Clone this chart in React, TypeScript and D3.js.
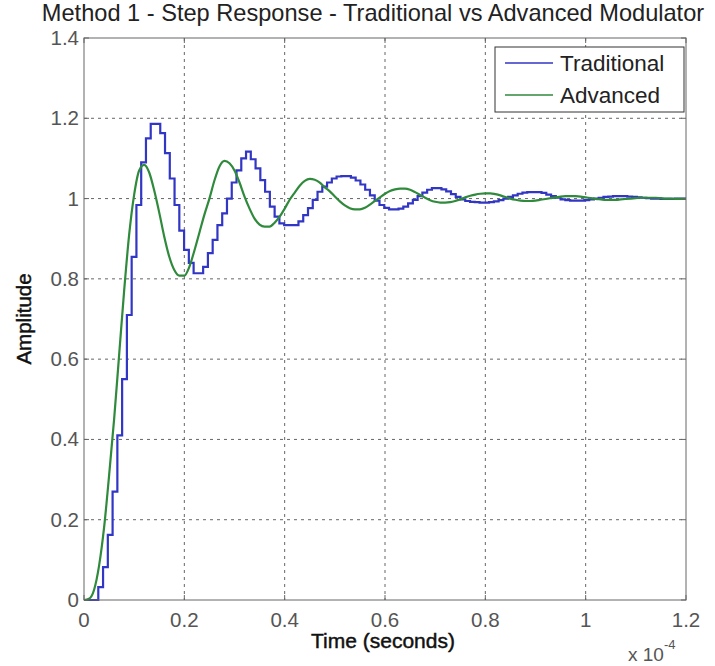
import React from "react";
import * as d3 from "d3";

// ---- data (time in units of 1e-4 s) ----
const xTicks = [0, 0.2, 0.4, 0.6, 0.8, 1, 1.2];
const yTicks = [0, 0.2, 0.4, 0.6, 0.8, 1, 1.2, 1.4];
const seriesNames = ["Traditional", "Advanced"];

// Traditional: discrete-time (zero-order hold) step response, sample period 0.95 us
const tradSampleTime = 0.0095;
const tradValues = [
  0, 0, 0, 0.032, 0.082, 0.162, 0.27, 0.41, 0.55, 0.71,
  0.855, 0.984, 1.09, 1.15, 1.186, 1.186, 1.163, 1.113, 1.05, 0.984,
  0.92, 0.872, 0.84, 0.814, 0.814, 0.83, 0.864, 0.897, 0.934, 0.963,
  1.0, 1.04, 1.07, 1.1, 1.117, 1.098, 1.075, 1.046, 1.017, 0.98,
  0.955, 0.938, 0.934, 0.934, 0.934, 0.943, 0.959, 0.976, 0.997, 1.017,
  1.03, 1.04, 1.05, 1.055, 1.056, 1.056, 1.052, 1.045, 1.035, 1.022,
  1.008, 0.995, 0.984, 0.977, 0.973, 0.973, 0.975, 0.98, 0.988, 0.997,
  1.006, 1.015, 1.022, 1.026, 1.026, 1.023, 1.018, 1.011, 1.004, 0.998,
  0.994, 0.992, 0.991, 0.99, 0.99, 0.991, 0.993, 0.996, 1.0, 1.004,
  1.008, 1.012, 1.015, 1.016, 1.016, 1.016, 1.014, 1.01, 1.006, 1.002,
  0.998, 0.996, 0.995, 0.995, 0.995, 0.996, 0.998, 1.0, 1.002, 1.004,
  1.005, 1.006, 1.006, 1.006, 1.005, 1.004, 1.003, 1.002, 1.001, 1.0,
  1.0, 0.999, 0.999, 0.999, 1.0, 1.0, 1.0,
];

// Advanced: continuous response read every 1 us
const advSampleTime = 0.01;
const advValues = [
  0, 0.003, 0.025, 0.085, 0.18, 0.31, 0.45, 0.61, 0.77, 0.91,
  1.01, 1.07, 1.084, 1.065, 1.02, 0.965, 0.905, 0.855, 0.822, 0.808,
  0.808, 0.83, 0.87, 0.915, 0.96, 1.0, 1.045, 1.08, 1.094, 1.088,
  1.07, 1.04, 1.005, 0.975, 0.95, 0.935, 0.93, 0.93, 0.94, 0.955,
  0.975, 0.997, 1.015, 1.032, 1.044, 1.049, 1.047, 1.04, 1.028, 1.018,
  1.005, 0.993, 0.983, 0.976, 0.973, 0.973, 0.977, 0.985, 0.994, 1.003,
  1.012, 1.019, 1.023, 1.025, 1.025, 1.022, 1.016, 1.009, 1.002, 0.996,
  0.992, 0.99, 0.99, 0.991, 0.994, 0.998, 1.003, 1.007, 1.01, 1.012,
  1.013, 1.013, 1.011, 1.008, 1.004, 1.0, 0.997, 0.995, 0.994, 0.994,
  0.995, 0.997, 0.999, 1.001, 1.003, 1.005, 1.006, 1.006, 1.006, 1.005,
  1.003, 1.001, 0.999, 0.998, 0.997, 0.997, 0.997, 0.998, 0.999, 1.0,
  1.001, 1.002, 1.002, 1.002, 1.002, 1.001, 1.0, 1.0, 0.999, 0.999, 0.999,
];

const W = 715;
const H = 666;
const M = { left: 84, right: 686, top: 38, bottom: 600 };
const FONT = "'Liberation Sans', Arial, sans-serif";
const BLUE = "#3236c4";
const GREEN = "#2f8a3c";

export default function App() {
  const x = d3.scaleLinear().domain([0, 1.2]).range([M.left, M.right]);
  const y = d3.scaleLinear().domain([0, 1.4]).range([M.bottom, M.top]);

  const tradPts: [number, number][] = tradValues.map((v, i) => [i * tradSampleTime, v]);
  tradPts.push([1.2, tradValues[tradValues.length - 1]]);
  const advPts: [number, number][] = advValues.map((v, i) => [i * advSampleTime, v]);

  const stepLine = d3
    .line<[number, number]>()
    .x((d) => x(Math.min(d[0], 1.2)))
    .y((d) => y(d[1]))
    .curve(d3.curveStepAfter);
  const smoothLine = d3
    .line<[number, number]>()
    .x((d) => x(d[0]))
    .y((d) => y(d[1]))
    .curve(d3.curveMonotoneX);

  const colors = [BLUE, GREEN];

  return (
    <svg
      width={W}
      height={H}
      style={{ position: "absolute", left: 0, top: 0, background: "#fff" }}
      fontFamily={FONT}
    >
      <rect x={0} y={0} width={W} height={H} fill="#fff" />
      {/* title */}
      <text x={373} y={21} textAnchor="middle" fontSize={23.6} fill="#222">
        Method 1 - Step Response - Traditional vs Advanced Modulator
      </text>

      {/* grid */}
      <g stroke="#666" strokeWidth={1} strokeDasharray="3,4">
        {xTicks.slice(1, -1).map((t) => (
          <line key={"gx" + t} x1={x(t)} x2={x(t)} y1={M.top} y2={M.bottom} />
        ))}
        {yTicks.slice(1, -1).map((t) => (
          <line key={"gy" + t} x1={M.left} x2={M.right} y1={y(t)} y2={y(t)} />
        ))}
      </g>

      {/* series */}
      <path d={stepLine(tradPts) || ""} fill="none" stroke={BLUE} strokeWidth={2.2} />
      <path d={smoothLine(advPts) || ""} fill="none" stroke={GREEN} strokeWidth={2.2} />

      {/* axes box */}
      <rect
        x={M.left}
        y={M.top}
        width={M.right - M.left}
        height={M.bottom - M.top}
        fill="none"
        stroke="#666"
        strokeWidth={1}
      />
      <g stroke="#666" strokeWidth={1}>
        {xTicks.map((t) => (
          <g key={"tx" + t}>
            <line x1={x(t)} x2={x(t)} y1={M.bottom} y2={M.bottom - 5} />
            <line x1={x(t)} x2={x(t)} y1={M.top} y2={M.top + 5} />
          </g>
        ))}
        {yTicks.map((t) => (
          <g key={"ty" + t}>
            <line x1={M.left} x2={M.left + 5} y1={y(t)} y2={y(t)} />
            <line x1={M.right} x2={M.right - 5} y1={y(t)} y2={y(t)} />
          </g>
        ))}
      </g>

      {/* tick labels */}
      <g fontSize={20.5} fill="#555">
        {xTicks.map((t) => (
          <text key={"lx" + t} x={x(t)} y={M.bottom + 27} textAnchor="middle">
            {String(t)}
          </text>
        ))}
        {yTicks.map((t) => (
          <text key={"ly" + t} x={M.left - 5} y={y(t) + 7} textAnchor="end">
            {String(t)}
          </text>
        ))}
      </g>

      {/* axis labels */}
      <text x={383} y={648} textAnchor="middle" fontSize={21} fill="#111" stroke="#111" strokeWidth={0.45}>
        Time (seconds)
      </text>
      <text
        transform={`translate(31, ${(M.top + M.bottom) / 2}) rotate(-90)`}
        textAnchor="middle"
        fontSize={20.5}
        fill="#111"
        stroke="#111"
        strokeWidth={0.45}
      >
        Amplitude
      </text>
      <text x={628} y={661} fontSize={19} fill="#555">
        x 10
        <tspan dy={-12} fontSize={13}>
          -4
        </tspan>
      </text>

      {/* legend */}
      <rect x={495} y={47} width={189} height={65} fill="#fff" stroke="#333" strokeWidth={1} />
      {seriesNames.map((name, i) => (
        <g key={name}>
          <line x1={505} x2={553} y1={63 + i * 32} y2={63 + i * 32} stroke={colors[i]} strokeWidth={1.3} />
          <text x={560} y={71 + i * 32} fontSize={22.5} fill="#222">
            {name}
          </text>
        </g>
      ))}
    </svg>
  );
}
